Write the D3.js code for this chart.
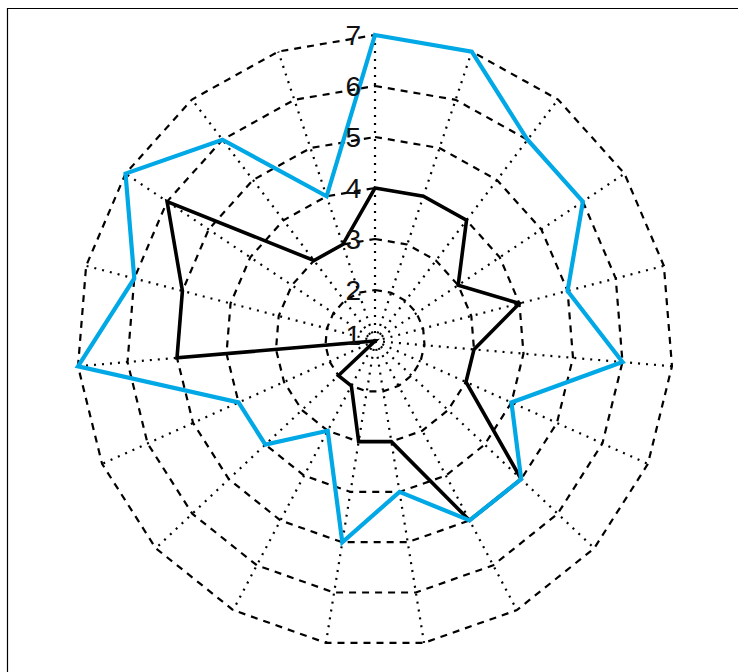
<!DOCTYPE html>
<html>
<head>
<meta charset="utf-8">
<script src="https://cdn.jsdelivr.net/npm/d3@7"></script>
<style>
  html, body { margin: 0; padding: 0; background: #fff; }
  svg { display: block; }
</style>
</head>
<body>
<script>
// Spider chart: 19 spokes, radial axis from 1 (centre) to 7 (outer ring)
const categories = d3.range(1, 20).map(String);
const seriesBlue  = [7, 7, 6, 6, 5, 6, 4, 5, 5, 4, 5, 3, 4, 4, 7, 6, 7, 6, 4];
const seriesBlack = [4, 4, 4, 3, 4, 3, 3, 5, 5, 3, 3, 2, 2, 1, 5, 5, 6, 3, 3];
const tickLabels  = [1, 2, 3, 4, 5, 6, 7];

const W = 738, H = 672;
const cx = 375, cy = 341, Rx = 298, Ry = 306;

const svg = d3.select("body").append("svg")
  .attr("width", W).attr("height", H);

// frame
svg.append("path")
  .attr("d", `M7.5,${H} V8.5 H${W}`)
  .attr("fill", "none").attr("stroke", "#000").attr("stroke-width", 1.2);

const angle = d3.scaleLinear()
  .domain([0, categories.length])
  .range([0, 2 * Math.PI]);
const radius = d3.scaleLinear().domain([1, 7]).range([0, 1]);

const px = (i, v) => cx + Rx * radius(v) * Math.sin(angle(i));
const py = (i, v) => cy - Ry * radius(v) * Math.cos(angle(i));

const polyLine = d3.line()
  .x(d => px(d.i, d.v))
  .y(d => py(d.i, d.v))
  .curve(d3.curveLinearClosed);

const g = svg.append("g");

// dashed rings
tickLabels.filter(t => t > 1).forEach(t => {
  g.append("path")
    .attr("d", polyLine(categories.map((c, i) => ({ i, v: t }))))
    .attr("fill", "none")
    .attr("stroke", "#000")
    .attr("stroke-width", 2.2)
    .attr("stroke-dasharray", "7,6");
});

// dotted spokes
categories.forEach((c, i) => {
  g.append("line")
    .attr("x1", px(i, 1)).attr("y1", py(i, 1))
    .attr("x2", px(i, 7)).attr("y2", py(i, 7))
    .attr("stroke", "#000")
    .attr("stroke-width", 2.2)
    .attr("stroke-dasharray", "2,6");
});

// series
const drawSeries = (vals, color, w) => {
  g.append("path")
    .attr("d", polyLine(vals.map((v, i) => ({ i, v }))))
    .attr("fill", "none")
    .attr("stroke", color)
    .attr("stroke-width", w)
    .attr("stroke-linejoin", "miter");
};
drawSeries(seriesBlack, "#000", 3.6);
drawSeries(seriesBlue, "#00a8e6", 4.2);

// radial tick labels along the top spoke
g.selectAll("text.tick")
  .data(tickLabels)
  .join("text")
  .attr("class", "tick")
  .attr("x", d => px(0, d) - 14)
  .attr("y", d => py(0, d) - (d === 1 ? 6 : 0))
  .attr("text-anchor", "end")
  .attr("dominant-baseline", "central")
  .attr("font-family", "Liberation Sans, Arial, sans-serif")
  .attr("font-size", 28)
  .attr("fill", "#111")
  .text(d => d);
</script>
</body>
</html>
